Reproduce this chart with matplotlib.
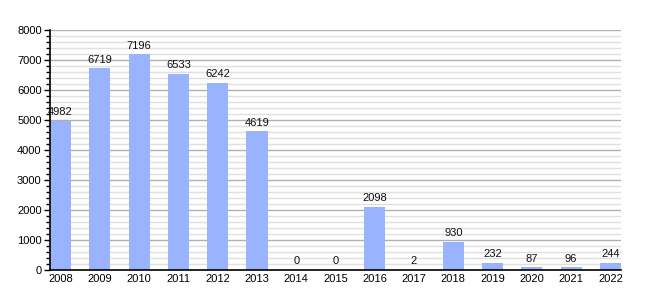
import matplotlib
matplotlib.use("Agg")
import matplotlib.pyplot as plt
from matplotlib.ticker import MultipleLocator

years = ["2008", "2009", "2010", "2011", "2012", "2013", "2014", "2015",
         "2016", "2017", "2018", "2019", "2020", "2021", "2022"]
values = [4982, 6719, 7196, 6533, 6242, 4619, 0, 0, 2098, 2, 930, 232, 87, 96, 244]

plt.rcParams['font.family'] = ['Liberation Sans', 'DejaVu Sans']
fig = plt.figure(figsize=(6.5, 3.0), dpi=100)
ax = fig.add_axes([50/650, 30/300, 571/650, 240/300])

w = 0.54
x = list(range(len(years)))
ax.bar(x, values, width=w, color='#99b3ff', zorder=3)
for xi, v in zip(x, values):
    ax.text(xi, v + 120, str(v), ha='center', va='bottom', fontsize=8, color='#111111', zorder=4)

ax.set_xlim(-w/2, len(years) - 1 + w/2)
ax.set_ylim(0, 8000)
ax.set_xticks(x)
ax.set_xticklabels(years, fontsize=8)
ax.yaxis.set_major_locator(MultipleLocator(1000))
ax.yaxis.set_minor_locator(MultipleLocator(200))
ax.tick_params(axis='y', which='major', labelsize=8, length=4, width=1, pad=2)
ax.tick_params(axis='y', which='minor', length=3, width=1)
ax.tick_params(axis='x', length=0, labelsize=8, pad=3)
ax.grid(axis='y', which='major', color='#b0b0b0', linewidth=1, zorder=1)
ax.grid(axis='y', which='minor', color='#e0e0e0', linewidth=1, zorder=0)
for s in ['top', 'right']:
    ax.spines[s].set_visible(False)
ax.spines['left'].set_linewidth(1.2)
ax.spines['bottom'].set_linewidth(1.2)
ax.spines['left'].set_zorder(5)
ax.spines['bottom'].set_zorder(5)

fig.savefig("out.png", dpi=100)
